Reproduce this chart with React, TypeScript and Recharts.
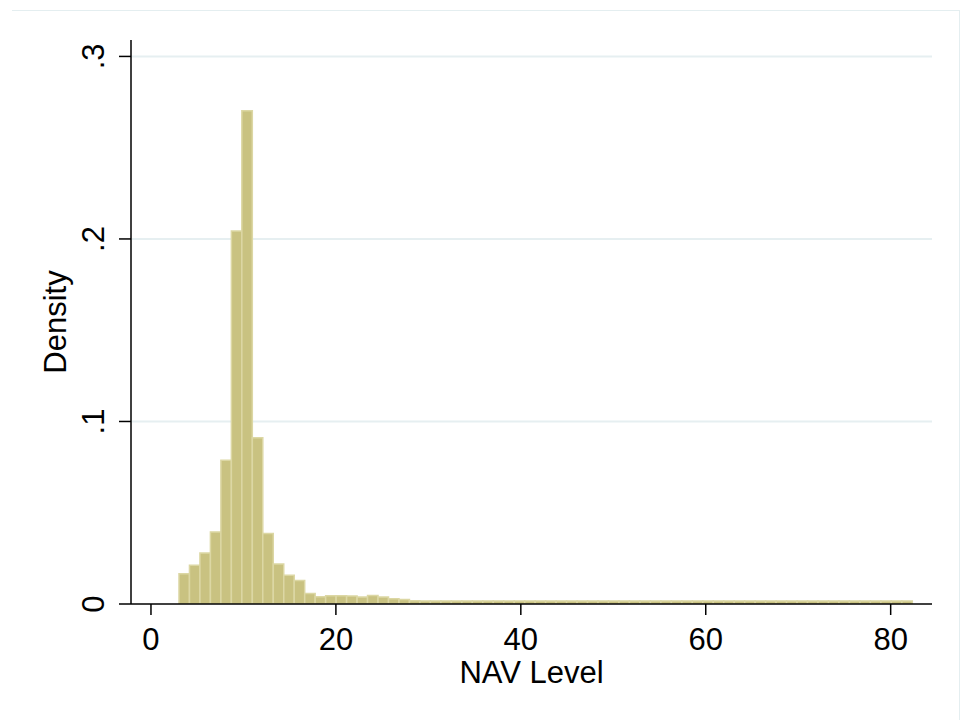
import React from 'react';
import { BarChart, Bar, XAxis, YAxis, CartesianGrid, Label } from 'recharts';

// histogram bins (Stata style): 70 bins, start + width
const binStart = 3.03;
const binWidth = 1.133;

// density per bin
const densities = [
    0.0166, 0.0212, 0.0279, 0.0395, 0.0788, 0.2043, 0.2702, 0.0911, 0.0386, 0.0219,
    0.0158, 0.0129, 0.0058, 0.0040, 0.0045, 0.0045, 0.0044, 0.0038, 0.0046, 0.0038,
    0.0029, 0.0024, 0.0018, 0.0017, 0.0017, 0.0017, 0.0017, 0.0017, 0.0017, 0.0017,
    0.0017, 0.0017, 0.0017, 0.0017, 0.0017, 0.0017, 0.0017, 0.0017, 0.0017, 0.0017,
    0.0017, 0.0017, 0.0017, 0.0017, 0.0017, 0.0017, 0.0017, 0.0017, 0.0017, 0.0017,
    0.0017, 0.0017, 0.0017, 0.0017, 0.0017, 0.0017, 0.0017, 0.0017, 0.0017, 0.0017,
    0.0017, 0.0017, 0.0017, 0.0017, 0.0017, 0.0017, 0.0017, 0.0017, 0.0017, 0.0017,
];

const xTicks = [0, 20, 40, 60, 80];
const yTicks = [0, 0.1, 0.2, 0.3];

const data = densities.map((d, i) => ({
    nav: binStart + binWidth * (i + 0.5),
    density: d,
}));

const FONT = '"Liberation Sans", Arial, sans-serif';

const fmtY = (v: number) => (v === 0 ? '0' : String(v).replace(/^0/, ''));

const YTick = (props: any) => {
    const { x, y, payload } = props;
    return (
        <text
            x={x}
            y={y}
            transform={`rotate(-90, ${x}, ${y})`}
            textAnchor="middle"
            fontFamily={FONT}
            fontSize={31}
            fill="#000"
        >
            {fmtY(payload.value)}
        </text>
    );
};

export default function App() {
    return (
        <div style={{ position: 'absolute', left: 0, top: 0, width: 962, height: 720, background: '#fff' }}>
            <div
                style={{
                    position: 'absolute',
                    left: 12,
                    top: 10,
                    width: 947,
                    height: 710,
                    borderTop: '1px solid #e4eef0',
                    borderRight: '1px solid #e4eef0',
                }}
            />
            <BarChart
                width={962}
                height={720}
                data={data}
                margin={{ top: 40, right: 30, bottom: 36, left: 0 }}
                barCategoryGap={0}
                barGap={0}
            >
                <CartesianGrid
                    horizontal
                    vertical={false}
                    stroke="#e6eff1"
                    strokeWidth={2}
                    horizontalValues={[0.1, 0.2, 0.3]}
                />
                <XAxis
                    dataKey="nav"
                    type="number"
                    domain={[-2.16, 84.47]}
                    ticks={xTicks}
                    allowDataOverflow
                    height={80}
                    stroke="#000"
                    strokeWidth={1.5}
                    tickSize={11}
                    tickMargin={13}
                    tick={{ fontFamily: FONT, fontSize: 31, fill: '#000' }}
                >
                    <Label
                        value="NAV Level"
                        position="insideBottom"
                        offset={1}
                        style={{ fontFamily: FONT, fontSize: 31, fill: '#000' }}
                    />
                </XAxis>
                <YAxis
                    type="number"
                    domain={[0, 0.309]}
                    ticks={yTicks}
                    allowDataOverflow
                    width={131}
                    stroke="#000"
                    strokeWidth={1.5}
                    tickSize={12}
                    tickMargin={15}
                    tick={<YTick />}
                >
                    <Label
                        content={(p: any) => {
                            const vb = p.viewBox;
                            const cx = 66;
                            const cy = vb.y + vb.height / 2;
                            return (
                                <text
                                    x={cx}
                                    y={cy}
                                    transform={`rotate(-90, ${cx}, ${cy})`}
                                    textAnchor="middle"
                                    fontFamily={FONT}
                                    fontSize={31}
                                    fill="#000"
                                >
                                    Density
                                </text>
                            );
                        }}
                    />
                </YAxis>
                <Bar
                    dataKey="density"
                    fill="#c9c281"
                    stroke="#dcd7a4"
                    strokeWidth={1.5}
                    barSize={10.47}
                    isAnimationActive={false}
                />
            </BarChart>
        </div>
    );
}
